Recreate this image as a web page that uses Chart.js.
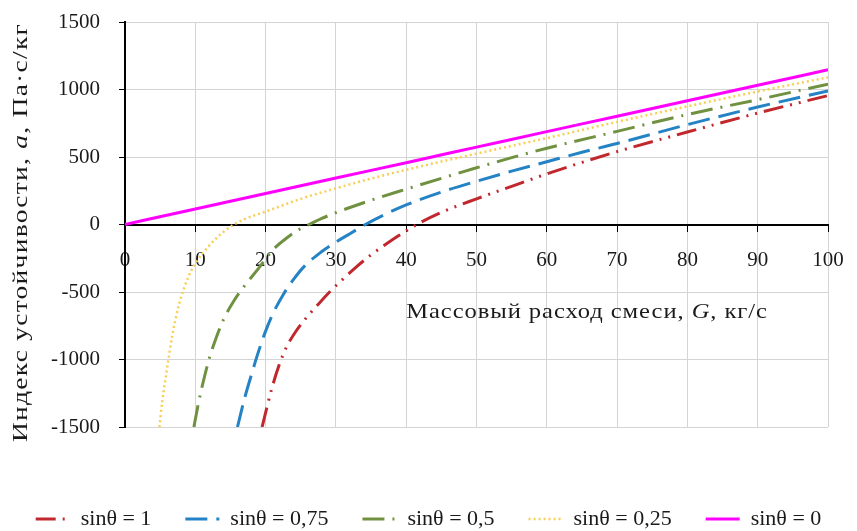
<!DOCTYPE html>
<html>
<head>
<meta charset="utf-8">
<script src="https://cdn.jsdelivr.net/npm/chart.js@4/dist/chart.umd.min.js"></script>
<style>
  html, body { margin: 0; padding: 0; background: #fff; }
  #wrap { width: 857px; height: 531px; }
</style>
</head>
<body>
<div id="wrap"><canvas id="chart" width="857" height="531"></canvas></div>
<script>
// --- data ---
const seriesLabels = ["sinθ = 1", "sinθ = 0,75", "sinθ = 0,5", "sinθ = 0,25", "sinθ = 0"];

// sinθ = 1
const gRed = [19.5, 20.8, 22, 23, 24.2, 25.8, 27.5, 29.1, 31, 33, 35, 37, 39, 41.5, 45, 50, 55, 60, 65, 70, 80, 90, 100];
const aRed = [-1500, -1230, -1030, -905, -800, -690, -590, -500, -405, -310, -225, -150, -80, 0, 90, 190, 283, 375, 460, 540, 685, 825, 955];

// sinθ = 0,75
const gBlue = [16, 17, 18, 19, 20, 21, 22.5, 24, 25.5, 28, 30, 32, 34.2, 37, 40, 45, 50, 55, 60, 65, 70, 80, 90, 100];
const aBlue = [-1500, -1290, -1110, -940, -790, -665, -520, -405, -310, -200, -130, -68, 0, 75, 145, 240, 320, 395, 465, 535, 600, 740, 870, 990];

// sinθ = 0,5
const gGreen = [9.8, 10.5, 11.2, 12, 13, 14, 15.5, 17, 19, 21, 23, 25, 26.2, 28, 30, 32, 35, 40, 45, 50, 55, 60, 70, 80, 90, 100];
const aGreen = [-1500, -1310, -1150, -990, -835, -705, -565, -455, -325, -190, -100, -30, 0, 45, 88, 126, 180, 262, 342, 420, 495, 565, 690, 815, 925, 1040];

// sinθ = 0,25
const gYellow = [4.9, 5.3, 6, 6.7, 7.7, 9, 10, 12, 14, 15.5, 17, 20, 25, 30, 35, 40, 50, 60, 70, 80, 90, 100];
const aYellow = [-1500, -1310, -1060, -830, -590, -390, -290, -155, -55, 0, 40, 95, 190, 268, 340, 405, 525, 640, 760, 875, 985, 1090];

// sinθ = 0
const gMagenta = [0, 10, 20, 30, 40, 50, 60, 70, 80, 90, 100];
const aMagenta = [0, 115, 229, 344, 458, 573, 688, 802, 917, 1031, 1146];

const xTitleParts = [["Массовый расход смеси, ", false], ["G", true], [", кг/с", false]];
const yTitleParts = [["Индекс устойчивости, ", false], ["a", true], [", Па·с/кг", false]];

const FONT = "'Liberation Serif', 'Times New Roman', serif";

function points(gs, as) {
	return gs.map((g, i) => ({ x: g, y: as[i] }));
}

// draws a title built from plain / italic pieces, a bit widened like the original
function drawRich(ctx, parts, size, spacing, stretch, x, y, rotate, center) {
	ctx.save();
	ctx.translate(x, y);
	if (rotate) ctx.rotate(-Math.PI / 2);
	ctx.scale(stretch, 1);
	ctx.fillStyle = "#1a1a1a";
	ctx.textBaseline = "middle";
	ctx.textAlign = "left";
	ctx.letterSpacing = spacing + "px";
	let total = 0;
	parts.forEach(([t, it]) => {
		ctx.font = (it ? "italic " : "") + size + "px " + FONT;
		total += ctx.measureText(t).width;
	});
	let cx = center ? -total / 2 : 0;
	parts.forEach(([t, it]) => {
		ctx.font = (it ? "italic " : "") + size + "px " + FONT;
		ctx.fillText(t, cx, 0);
		cx += ctx.measureText(t).width;
	});
	ctx.restore();
}

const axisTitles = {
	id: "axisTitles",
	afterDraw(chart) {
		const { ctx, chartArea } = chart;
		const xs = chart.scales.x, ys = chart.scales.y;
		drawRich(ctx, xTitleParts, 21, 0.8, 1.17, xs.getPixelForValue(40), ys.getPixelForValue(-650), false, false);
		drawRich(ctx, yTitleParts, 22, 1, 1.25, 21, (chartArea.top + chartArea.bottom) / 2 + 8, true, true);
	},
};

Chart.defaults.font.family = FONT;
Chart.defaults.color = "#1a1a1a";

const common = { fill: false, pointRadius: 0, cubicInterpolationMode: "monotone", borderCapStyle: "butt" };

new Chart(document.getElementById("chart"), {
	type: "line",
	data: {
		datasets: [
			{ ...common, label: seriesLabels[0], data: points(gRed, aRed), borderColor: "#c0282d", borderWidth: 3, borderDash: [20, 7, 2, 7, 2, 7] },
			{ ...common, label: seriesLabels[1], data: points(gBlue, aBlue), borderColor: "#2483c5", borderWidth: 3, borderDash: [22, 9] },
			{ ...common, label: seriesLabels[2], data: points(gGreen, aGreen), borderColor: "#6f9140", borderWidth: 3, borderDash: [22, 8, 2, 8] },
			{ ...common, label: seriesLabels[3], data: points(gYellow, aYellow), borderColor: "#f7cf55", borderWidth: 2.5, borderDash: [2, 3] },
			{ ...common, label: seriesLabels[4], data: points(gMagenta, aMagenta), borderColor: "#ff00ff", borderWidth: 3 },
		],
	},
	options: {
		responsive: false,
		animation: false,
		layout: { padding: { left: 0, right: 0, top: 22, bottom: -9 } },
		scales: {
			x: {
				type: "linear",
				position: { y: 0 },
				min: 0,
				max: 100,
				ticks: { stepSize: 10, font: { size: 21 }, padding: 17, maxRotation: 0, callback: (v) => String(v) },
				grid: { color: "#d4d4d4", lineWidth: 1, tickColor: "#000", tickLength: 6 },
				border: { color: "#000", width: 2 },
				afterFit(scale) { scale.paddingLeft = 0; scale.paddingRight = 0; },
			},
			y: {
				min: -1500,
				max: 1500,
				ticks: { stepSize: 500, font: { size: 21 }, padding: 19, callback: (v) => String(v) },
				grid: { color: "#d4d4d4", lineWidth: 1, tickColor: "#000", tickLength: 6 },
				border: { color: "#000", width: 2 },
				afterFit(scale) { scale.width = 125; scale.paddingTop = 0; scale.paddingBottom = 0; },
			},
			// empty axis that only keeps the right margin
			yRight: {
				position: "right",
				min: 0,
				max: 1,
				grid: { display: false },
				ticks: { display: false },
				border: { display: false },
				afterFit(scale) { scale.width = 29; scale.paddingTop = 0; scale.paddingBottom = 0; },
			},
		},
		plugins: {
			legend: {
				position: "bottom",
				title: { display: true, text: " ", font: { size: 20 }, padding: { top: 23, bottom: 0 } },
				labels: {
					usePointStyle: true,
					pointStyle: "line",
					pointStyleWidth: 34,
					font: { size: 22 },
					color: "#1a1a1a",
					padding: 34,
					generateLabels(chart) {
						const items = Chart.defaults.plugins.legend.labels.generateLabels(chart);
						items.forEach((it) => {
							const ds = chart.data.datasets[it.datasetIndex];
							it.lineDash = ds.borderDash || [];
							it.strokeStyle = ds.borderColor;
							it.lineWidth = ds.borderWidth;
						});
						return items;
					},
				},
			},
			tooltip: { enabled: false },
		},
	},
	plugins: [axisTitles],
});
</script>
</body>
</html>
